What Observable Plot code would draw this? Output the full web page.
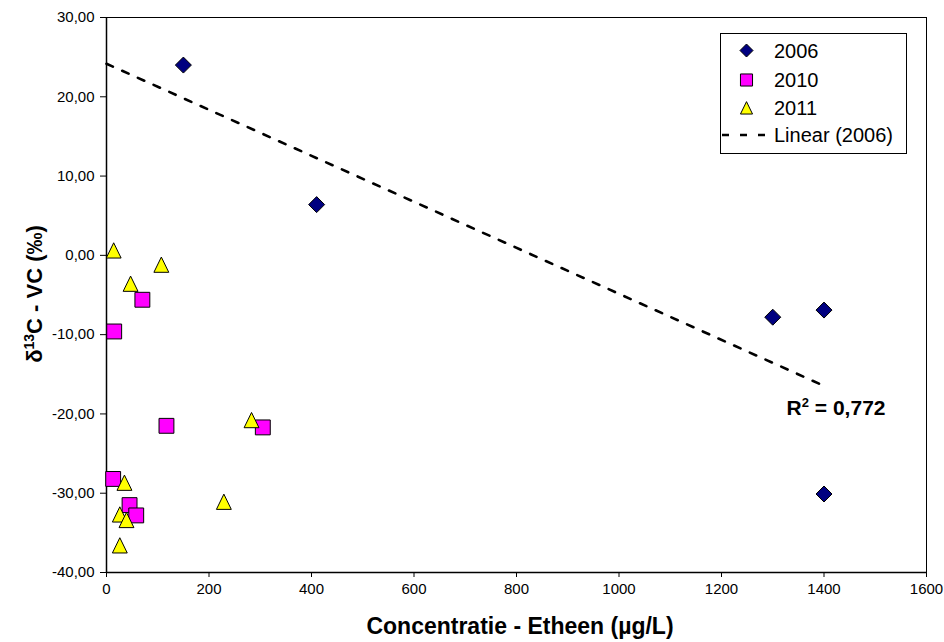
<!DOCTYPE html>
<html><head><meta charset="utf-8">
<script src="https://cdn.jsdelivr.net/npm/d3@7"></script>
<script src="https://cdn.jsdelivr.net/npm/@observablehq/plot@0.6"></script>
<style>body{margin:0;background:#fff;} svg{display:block;}</style>
</head><body><div id="chart"></div>
<script>
// ---- data ----
const seriesNames = ["2006", "2010", "2011"];
const seriesColors = ["#000080", "#ff00ff", "#ffff00"];
const x2006 = [150, 410, 1300, 1400, 1400];
const y2006 = [24.0, 6.4, -7.8, -6.9, -30.1];
const x2010 = [15, 70, 117, 305, 13, 45, 58];
const y2010 = [-9.6, -5.6, -21.5, -21.7, -28.2, -31.5, -32.8];
const x2011 = [14, 107, 47, 283, 35, 26, 39, 26, 229];
const y2011 = [0.6, -1.2, -3.6, -20.8, -28.7, -32.7, -33.4, -36.6, -31.1];
const xTicks = [0, 200, 400, 600, 800, 1000, 1200, 1400, 1600];
const yTicks = [-40, -30, -20, -10, 0, 10, 20, 30];
const xTitle = "Concentratie - Etheen (µg/L)";
const trendName = "Linear (2006)";

const toRows = (xs, ys) => xs.map((x, i) => ({x, y: ys[i]}));
const d2006 = toRows(x2006, y2006);
const d2010 = toRows(x2010, y2010);
const d2011 = toRows(x2011, y2011);

// linear regression of 2006 series
const mx = d3.mean(x2006), my = d3.mean(y2006);
const sxy = d3.sum(x2006, (x, i) => (x - mx) * (y2006[i] - my));
const sxx = d3.sum(x2006, x => (x - mx) ** 2);
const syy = d3.sum(y2006, y => (y - my) ** 2);
const slope = sxy / sxx, intercept = my - slope * mx;
const r2 = (sxy * sxy) / (sxx * syy);
const trend = [0, d3.max(x2006)].map(x => ({x, y: intercept + slope * x}));

// ---- symbols (Excel-like) ----
const diamondSym = {draw(c, s){const r = Math.sqrt(s/Math.PI); c.moveTo(0,-r); c.lineTo(r,0); c.lineTo(0,r); c.lineTo(-r,0); c.closePath();}};
const squareSym = {draw(c, s){const r = Math.sqrt(s/Math.PI)*0.93; c.rect(-r,-r,2*r,2*r);}};
const triSym = {draw(c, s){const r = Math.sqrt(s/Math.PI)*0.93; c.moveTo(0,-r*1.05); c.lineTo(r,r); c.lineTo(-r,r); c.closePath();}};
const syms = [diamondSym, squareSym, triSym];

const font = "'Liberation Sans', Arial, sans-serif";

const plot = Plot.plot({
  width: 944, height: 642,
  marginLeft: 106, marginRight: 18, marginTop: 17, marginBottom: 70,
  style: {fontFamily: font, fontSize: "15px", color: "#000", background: "#fff"},
  x: {domain: [0, 1600]},
  y: {domain: [-40, 30]},
  marks: [
    Plot.frame({stroke: "#000", strokeWidth: 1}),
    Plot.axisX(xTicks, {tickSize: 5, tickPadding: 6, label: null, fontSize: 15, tickFormat: d => String(d)}),
    Plot.axisY(yTicks, {tickSize: 6, tickPadding: 6, label: null, fontSize: 15, tickFormat: d => d.toFixed(2).replace(".", ",")}),
    Plot.ruleX([0], {stroke: "#000", strokeWidth: 1.5}),
    Plot.ruleY([-40], {stroke: "#000", strokeWidth: 1.5}),
    Plot.line(trend, {x: "x", y: "y", stroke: "#000", strokeWidth: 2.6, strokeDasharray: "7,10.2"}),
    Plot.dot(d2006, {x: "x", y: "y", r: 8, symbol: diamondSym, fill: seriesColors[0], stroke: "#000", strokeWidth: 1}),
    Plot.dot(d2010, {x: "x", y: "y", r: 8, symbol: squareSym, fill: seriesColors[1], stroke: "#000", strokeWidth: 1}),
    Plot.dot(d2011, {x: "x", y: "y", r: 8, symbol: triSym, fill: seriesColors[2], stroke: "#000", strokeWidth: 1})
  ]
});
document.getElementById("chart").appendChild(plot);

const svg = d3.select(plot);
const sx = plot.scale("x"), sy = plot.scale("y");

// axis titles
svg.append("text").attr("x", 520).attr("y", 634).attr("text-anchor", "middle")
  .attr("font-family", font).attr("font-size", 23).attr("font-weight", "bold").attr("fill", "#000")
  .text(xTitle);
const yt = svg.append("text").attr("transform", "translate(42,294) rotate(-90)").attr("text-anchor", "middle")
  .attr("font-family", font).attr("font-size", 22).attr("font-weight", "bold").attr("fill", "#000");
yt.append("tspan").text("δ");
yt.append("tspan").attr("dy", -8).attr("font-size", 14).text("13");
yt.append("tspan").attr("dy", 8).text("C - VC (‰)");

// R² label
const rl = svg.append("text").attr("x", sx.apply(1328)).attr("y", sy.apply(-20.2)).attr("text-anchor", "start")
  .attr("font-family", font).attr("font-size", 21).attr("font-weight", "bold").attr("fill", "#000");
rl.append("tspan").text("R");
rl.append("tspan").attr("dy", -8).attr("font-size", 13).text("2");
rl.append("tspan").attr("dy", 8).text(" = " + r2.toFixed(3).replace(".", ","));

// legend
const lg = svg.append("g").attr("font-family", font).attr("font-size", 20).attr("text-anchor", "start");
lg.append("rect").attr("x", 720.5).attr("y", 33.5).attr("width", 186).attr("height", 120)
  .attr("fill", "#fff").attr("stroke", "#000").attr("stroke-width", 1);
const rowY = [50.5, 80, 108, 135];
seriesNames.forEach((name, i) => {
  const path = d3.path();
  syms[i].draw(path, Math.PI * 6.5 * 6.5);
  lg.append("path").attr("d", path.toString()).attr("transform", `translate(746.5,${rowY[i]})`)
    .attr("fill", seriesColors[i]).attr("stroke", "#000").attr("stroke-width", 1);
  lg.append("text").attr("x", 774).attr("y", rowY[i] + 7).attr("fill", "#000").attr("text-anchor", "start").text(name);
});
lg.append("line").attr("x1", 722).attr("x2", 770).attr("y1", rowY[3]).attr("y2", rowY[3])
  .attr("stroke", "#000").attr("stroke-width", 2.6).attr("stroke-dasharray", "7,11");
lg.append("text").attr("x", 774).attr("y", rowY[3] + 7).attr("fill", "#000").attr("text-anchor", "start").text(trendName);
</script>
</body></html>
